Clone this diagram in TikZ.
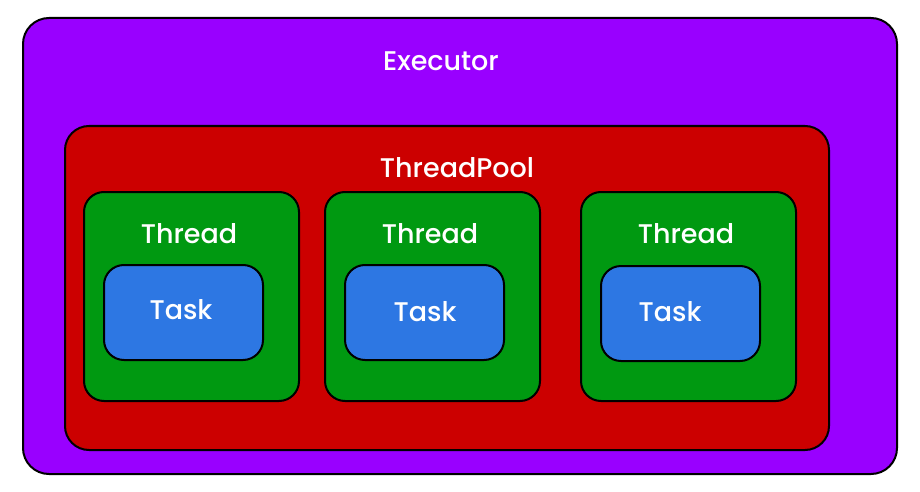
\documentclass[tikz,border=0pt]{standalone}
\usepackage{fontspec}
\setmainfont{Poppins}[UprightFont=* Medium]
\usetikzlibrary{positioning}
\definecolor{execpurple}{HTML}{9900FF}
\definecolor{poolred}{HTML}{CC0000}
\definecolor{threadgreen}{HTML}{009911}
\definecolor{taskblue}{HTML}{2D77E3}

\begin{document}
\begin{tikzpicture}[x=1pt,y=-1pt,line width=2pt]
  \tikzstyle{every node}=[inner sep=0pt,outer sep=0pt]
  \tikzstyle{box}=[draw=black,rounded corners=20pt,anchor=north west]
  \tikzstyle{title}=[text=white,font=\fontsize{27}{32}\selectfont]
  \tikzstyle{threadbox}=[box,fill=threadgreen,minimum width=215pt,minimum height=209pt]
  \tikzstyle{taskbox}=[box,fill=taskblue,minimum width=159pt,minimum height=95pt]
\useasboundingbox (0,0) rectangle (920,492);
\node [box,fill=execpurple,minimum width=874pt,minimum height=456pt,rounded corners=26pt] (executor) at (23,18) {};
\node [box,fill=poolred,minimum width=764pt,minimum height=324pt,rounded corners=24pt] (pool) at (65,126) {};
\node [threadbox] (thread1) at (84,192) {};
\node [threadbox] (thread2) at (325,192) {};
\node [threadbox] (thread3) at (581,192) {};
\node [taskbox] (task1) at (104,265) {};
\node [taskbox] (task2) at (345,265) {};
\node [taskbox] (task3) at (601,266) {};

\node [title] (executorlabel) at (441,61) {Executor};
\node [title] (poollabel) at (457,168) {ThreadPool};
\node [title] (threadlabel1) at (189,234) {Thread};
\node [title] (threadlabel2) at (430,234) {Thread};
\node [title] (threadlabel3) at (686,234) {Thread};
\node [title] (tasklabel1) at (181,310) {Task};
\node [title] (tasklabel2) at (425,312) {Task};
\node [title] (tasklabel3) at (670,312) {Task};
\end{tikzpicture}
\end{document}
